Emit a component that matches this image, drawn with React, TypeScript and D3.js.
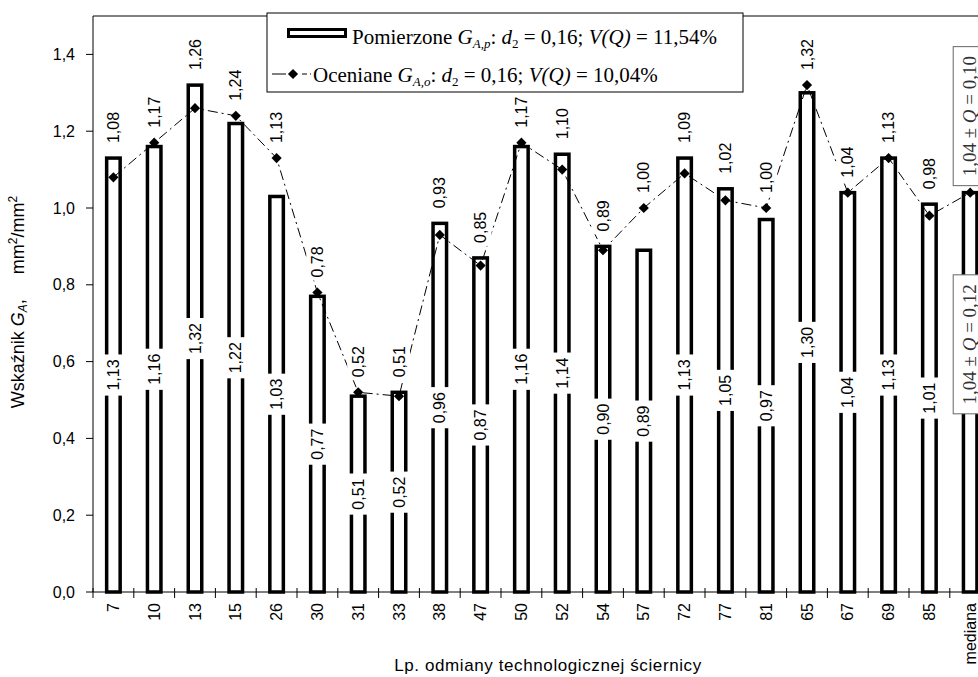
import React, { useEffect, useRef } from 'react';
import * as d3 from 'd3';

const categories = ['7', '10', '13', '15', '26', '30', '31', '33', '38', '47', '50', '52', '54', '57', '72', '77', '81', '65', '67', '69', '85', 'mediana'];
const measured = [1.13, 1.16, 1.32, 1.22, 1.03, 0.77, 0.51, 0.52, 0.96, 0.87, 1.16, 1.14, 0.90, 0.89, 1.13, 1.05, 0.97, 1.30, 1.04, 1.13, 1.01, 1.04];
const estimated = [1.08, 1.17, 1.26, 1.24, 1.13, 0.78, 0.52, 0.51, 0.93, 0.85, 1.17, 1.10, 0.89, 1.00, 1.09, 1.02, 1.00, 1.32, 1.04, 1.13, 0.98, 1.04];
const yTicks = [0, 0.2, 0.4, 0.6, 0.8, 1.0, 1.2, 1.4];
const medianLabel = '1,04';
const qMeasured = '0,12';
const qEstimated = '0,10';
const legendMeasured = ['Pomierzone ', 'A,p', '0,16', '11,54%'];
const legendEstimated = ['Oceniane ', 'A,o', '0,16', '10,04%'];
const xTitle = 'Lp. odmiany technologicznej ściernicy';

const fmt = (v: number) => v.toFixed(2).replace('.', ',');
const fmt1 = (v: number) => v.toFixed(1).replace('.', ',');

export default function App() {
  const ref = useRef<SVGSVGElement>(null);
  useEffect(() => {
    const svg = d3.select(ref.current);
    svg.selectAll('*').remove();
    const W = 978;
    const left = 93, top = 16, bottom = 592, step = 40.8;
    const sans = "'Liberation Sans', Arial, sans-serif";
    const serif = "'Liberation Serif', 'Times New Roman', serif";
    const x = d3.scaleBand<string>().domain(categories).range([left, left + step * categories.length]).padding(0);
    const y = d3.scaleLinear().domain([0, 1.5]).range([bottom, top]);
    const cx = (i: number) => (x(categories[i]) as number) + x.bandwidth() / 2;
    const n = categories.length;

    const g = svg.append('g');
    // frame
    g.append('line').attr('x1', left).attr('x2', W).attr('y1', y(1.5)).attr('y2', y(1.5)).attr('stroke', '#000').attr('stroke-width', 1);
    g.append('line').attr('x1', left).attr('x2', left).attr('y1', y(1.5)).attr('y2', y(0)).attr('stroke', '#000').attr('stroke-width', 1);

    // y ticks
    yTicks.forEach(t => {
      g.append('line').attr('x1', left - 7).attr('x2', left).attr('y1', y(t)).attr('y2', y(t)).attr('stroke', '#000');
      g.append('text').attr('x', left - 18).attr('y', y(t)).attr('text-anchor', 'end').attr('dominant-baseline', 'central')
        .attr('font-family', sans).attr('font-size', 16).text(fmt1(t));
    });

    // bars
    const bw = 13.5;
    g.selectAll('rect.bar').data(measured).join('rect').attr('class', 'bar')
      .attr('x', (_d, i) => cx(i) - bw / 2).attr('y', d => y(d))
      .attr('width', bw).attr('height', d => y(0) - y(d))
      .attr('fill', '#fff').attr('stroke', '#000').attr('stroke-width', 3.5);

    // x axis
    g.append('line').attr('x1', left).attr('x2', W).attr('y1', y(0)).attr('y2', y(0)).attr('stroke', '#000');
    for (let i = 0; i <= n; i++) {
      const xx = left + i * x.step();
      g.append('line').attr('x1', xx).attr('x2', xx).attr('y1', y(0) - 4).attr('y2', y(0) + 6).attr('stroke', '#000');
    }
    categories.forEach((c, i) => {
      g.append('text').attr('transform', `translate(${cx(i)},603) rotate(-90)`)
        .attr('text-anchor', 'end').attr('dominant-baseline', 'central')
        .attr('font-family', sans).attr('font-size', 16).text(c);
    });

    // inner bar labels
    measured.forEach((v, i) => {
      if (i === n - 1) return;
      const lg = g.append('g').attr('transform', `translate(${cx(i)},${y(v / 2)}) rotate(-90)`);
      const r = lg.append('rect').attr('fill', '#fff');
      const t = lg.append('text').attr('text-anchor', 'middle').attr('dominant-baseline', 'central')
        .attr('font-family', sans).attr('font-size', 16).text(fmt(v));
      const len = (t.node() as SVGTextElement).getComputedTextLength();
      r.attr('x', -len / 2 - 5).attr('width', len + 10).attr('y', -12).attr('height', 24);
    });

    // line
    const line = d3.line<number>().x((_d, i) => cx(i)).y(d => y(d));
    g.append('path').attr('d', line(estimated) as string).attr('fill', 'none').attr('stroke', '#000')
      .attr('stroke-width', 1).attr('stroke-dasharray', '10,4,2,4');
    const sym = d3.symbol(d3.symbolSquare, 52)();
    estimated.forEach((v, i) => {
      g.append('path').attr('d', sym as string).attr('transform', `translate(${cx(i)},${y(v)}) rotate(45)`).attr('fill', '#000');
    });

    // line labels
    estimated.forEach((v, i) => {
      if (i === n - 1) return;
      const base = Math.min(y(v), y(measured[i])) - 15;
      const lg = g.append('g').attr('transform', `translate(${cx(i)},${base}) rotate(-90)`);
      const r = lg.append('rect').attr('fill', '#fff');
      const t = lg.append('text').attr('text-anchor', 'start').attr('dominant-baseline', 'central')
        .attr('font-family', sans).attr('font-size', 16).text(fmt(v));
      const len = (t.node() as SVGTextElement).getComputedTextLength();
      r.attr('x', -3).attr('width', len + 6).attr('y', -11).attr('height', 22);
    });

    // median annotations
    const mi = n - 1;
    const boxLen = 139;
    const annot = (centerY: number, q: string) => {
      const ag = g.append('g').attr('transform', `translate(${cx(mi) - 1},${centerY}) rotate(-90)`);
      ag.append('rect').attr('fill', '#fff').attr('stroke', '#666').attr('stroke-width', 1)
        .attr('x', -boxLen / 2).attr('width', boxLen).attr('y', -16).attr('height', 34);
      const t = ag.append('text').attr('text-anchor', 'middle').attr('dominant-baseline', 'central')
        .attr('font-family', serif).attr('font-size', 19).attr('fill', '#333');
      t.append('tspan').text(`${medianLabel} ± `);
      t.append('tspan').attr('font-style', 'italic').text('Q');
      t.append('tspan').text(` = ${q}`);
    };
    annot(y(estimated[mi]) - 7 - boxLen / 2, qEstimated);
    annot(y(0.645), qMeasured);

    // legend
    const lgd = g.append('g');
    lgd.append('rect').attr('x', 267).attr('y', 13).attr('width', 476).attr('height', 79)
      .attr('fill', '#fff').attr('stroke', '#000').attr('stroke-width', 1);
    lgd.append('rect').attr('x', 288.5).attr('y', 29.5).attr('width', 57).attr('height', 7)
      .attr('fill', '#fff').attr('stroke', '#000').attr('stroke-width', 3);
    const legText = (xx: number, yy: number, parts: string[]) => {
      const t = lgd.append('text').attr('x', xx).attr('y', yy).attr('font-family', serif).attr('font-size', 21).attr('fill', '#000');
      t.append('tspan').text(parts[0]);
      t.append('tspan').attr('font-style', 'italic').text('G');
      t.append('tspan').attr('font-style', 'italic').attr('font-size', 13).attr('dy', 4).text(parts[1]);
      t.append('tspan').attr('dy', -4).text(': ');
      t.append('tspan').attr('font-style', 'italic').text('d');
      t.append('tspan').attr('font-size', 13).attr('dy', 4).text('2');
      t.append('tspan').attr('dy', -4).text(` = ${parts[2]}; `);
      t.append('tspan').attr('font-style', 'italic').text('V(Q)');
      t.append('tspan').text(` = ${parts[3]}`);
    };
    legText(352, 44, legendMeasured);
    lgd.append('line').attr('x1', 272).attr('x2', 311).attr('y1', 74).attr('y2', 74).attr('stroke', '#000')
      .attr('stroke-dasharray', '14,16,5,3,3,10');
    lgd.append('path').attr('d', sym as string).attr('transform', 'translate(293,74) rotate(45)').attr('fill', '#000');
    legText(313, 82, legendEstimated);

    // y title
    const yt = g.append('text').attr('transform', 'translate(24,302) rotate(-90)').attr('text-anchor', 'middle')
      .attr('font-family', sans).attr('font-size', 18).style('white-space', 'pre');
    yt.append('tspan').text('Wskaźnik ');
    yt.append('tspan').attr('font-style', 'italic').text('G');
    yt.append('tspan').attr('font-style', 'italic').attr('font-size', 12).attr('dy', 3).text('A');
    yt.append('tspan').attr('dy', -3).text(',     mm');
    yt.append('tspan').attr('font-size', 12).attr('dy', -7).text('2');
    yt.append('tspan').attr('dy', 7).text('/mm');
    yt.append('tspan').attr('font-size', 12).attr('dy', -7).text('2');

    // x title
    g.append('text').attr('x', 548).attr('y', 671).attr('text-anchor', 'middle')
      .attr('font-family', sans).attr('font-size', 17).attr('letter-spacing', 0.6).text(xTitle);
  }, []);
  return (
    <svg ref={ref} width={978} height={677}
      style={{ position: 'absolute', left: 0, top: 0, background: '#fff', overflow: 'hidden' }} />
  );
}
